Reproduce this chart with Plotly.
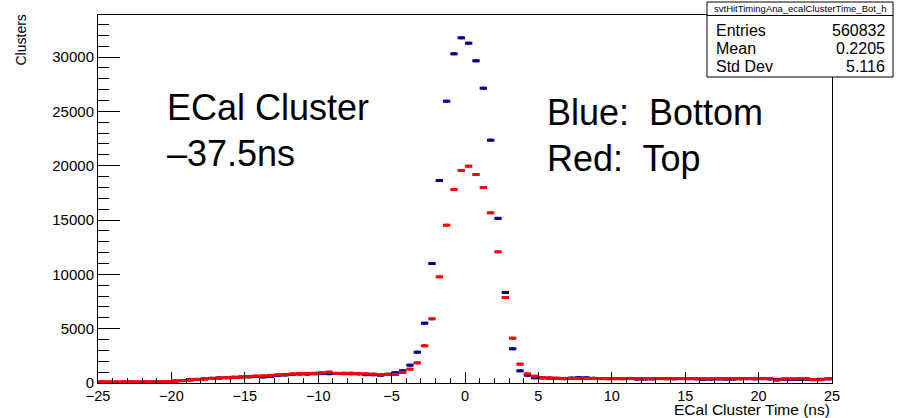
import numpy as np
import plotly.graph_objects as go

# Histogram binning (ROOT TH1: 100 bins from -25 to 25 ns)
bin_low = -25.0
bin_width = 0.5

# Blue: Bottom
bottom_counts = [
    90, 80, 70, 80, 90, 75, 80, 90, 100, 120,
    180, 230, 290, 330, 380, 430, 460, 490, 520, 540,
    560, 590, 560, 600, 700, 740, 800, 830, 820, 850,
    870, 860, 880, 860, 850, 840, 770, 760, 720, 800,
    939, 1123, 1638, 2834, 5503, 10996, 18634, 25932, 30294, 31766,
    31269, 29650, 27128, 22343, 15150, 8328, 3147, 1123, 718, 478,
    470, 440, 420, 400, 450, 490, 480, 430, 410, 400,
    410, 400, 420, 360, 370, 380, 410, 400, 390, 410,
    400, 390, 340, 350, 380, 360, 360, 390, 400, 380,
    400, 380, 330, 340, 330, 320, 350, 300, 340, 380,
]
# Red: Top
top_counts = [
    110, 100, 95, 100, 105, 95, 100, 105, 115, 130,
    160, 210, 270, 320, 370, 420, 460, 490, 520, 550,
    600, 640, 660, 700, 760, 790, 830, 860, 880, 890,
    950, 1000, 880, 900, 900, 880, 850, 820, 760, 790,
    782, 966, 1270, 1859, 3423, 5908, 9772, 14521, 17807, 19555,
    19951, 19187, 17991, 15662, 12074, 7868, 4122, 1730, 846, 626,
    500, 470, 440, 420, 420, 410, 420, 415, 410, 400,
    400, 405, 410, 400, 395, 400, 410, 400, 405, 410,
    410, 400, 395, 400, 405, 400, 395, 400, 410, 420,
    420, 400, 260, 380, 390, 400, 390, 320, 300, 410,
]

x_ticks = [-25, -20, -15, -10, -5, 0, 5, 10, 15, 20, 25]
y_ticks = [0, 5000, 10000, 15000, 20000, 25000, 30000]

stats_title = "svtHitTimingAna_ecalClusterTime_Bot_h"
stats_labels = ["Entries", "Mean", "Std Dev"]
stats_values = ["560832", "0.2205", "5.116"]

centers = bin_low + bin_width * (np.arange(len(bottom_counts)) + 0.5)

FONT = "Liberation Sans, Arial, Helvetica, sans-serif"
BLUE = "rgb(0,0,140)"
RED = "rgb(255,0,0)"

fig = go.Figure()
for counts, col in [(bottom_counts, BLUE), (top_counts, RED)]:
    fig.add_trace(go.Scatter(
        x=centers, y=counts, mode="markers",
        marker=dict(symbol="square", size=3, color=col),
        error_x=dict(type="constant", value=bin_width / 2, thickness=3,
                     width=0, color=col),
        showlegend=False, hoverinfo="x+y",
    ))

W, H = 908, 418
L, R, T, B = 98, 76, 15, 35
pw, ph = W - L - R, H - T - B


def px(xp):
    return (xp - L) / pw


def py(yp):
    return 1 - (yp - T) / ph


fig.update_layout(
    width=W, height=H,
    margin=dict(l=L, r=R, t=T, b=B),
    paper_bgcolor="white", plot_bgcolor="white",
    font=dict(family=FONT, color="black", size=14),
    xaxis=dict(
        range=[-25, 25], tickvals=x_ticks, ticks="inside", ticklen=11,
        tickwidth=1, tickcolor="black", showline=True, mirror=True,
        linecolor="black", linewidth=1, showgrid=False, zeroline=False,
        tickfont=dict(size=14.5),
        minor=dict(ticks="inside", ticklen=5.5, tick0=-25, dtick=1,
                   tickcolor="black", tickwidth=1, showgrid=False),
    ),
    yaxis=dict(
        range=[0, 33865], tickvals=y_ticks, tickformat="d", ticks="inside",
        ticklen=22, tickwidth=1, tickcolor="black", showline=True,
        mirror=True, linecolor="black", linewidth=1, showgrid=False,
        zeroline=False, tickfont=dict(size=15),
        minor=dict(ticks="inside", ticklen=11, tick0=0, dtick=1000,
                   tickcolor="black", tickwidth=1, showgrid=False),
    ),
)

ann = []
# axis titles
ann.append(dict(text="ECal Cluster Time (ns)", x=px(831), y=py(409.5),
                xanchor="right", yanchor="middle", font=dict(size=15.5),
                borderpad=0))
ann.append(dict(text="Clusters", x=px(20), y=py(13), textangle=-90,
                xanchor="center", yanchor="top", font=dict(size=14)))
# large labels
ann.append(dict(text="ECal Cluster", x=px(165), y=py(107),
                xanchor="left", yanchor="middle", font=dict(size=36)))
ann.append(dict(text="–37.5ns", x=px(165), y=py(153),
                xanchor="left", yanchor="middle", font=dict(size=36)))
ann.append(dict(text="Blue:\u00a0 Bottom", x=px(545), y=py(113),
                xanchor="left", yanchor="middle", font=dict(size=36)))
ann.append(dict(text="Red:\u00a0 Top", x=px(545), y=py(158),
                xanchor="left", yanchor="middle", font=dict(size=36)))
# stats box text
ann.append(dict(text=stats_title, x=px(800), y=py(8.5), xanchor="center",
                yanchor="middle", font=dict(size=9.5)))
for i, (lab, val) in enumerate(zip(stats_labels, stats_values)):
    yy = py(31 + 18 * i)
    ann.append(dict(text=lab, x=px(714), y=yy, xanchor="left",
                    yanchor="middle", font=dict(size=16)))
    ann.append(dict(text=val, x=px(887), y=yy, xanchor="right",
                    yanchor="middle", font=dict(size=16)))

for a in ann:
    a.update(xref="paper", yref="paper", showarrow=False)
fig.update_layout(annotations=ann)

fig.update_layout(shapes=[
    dict(type="rect", xref="paper", yref="paper", x0=px(707), x1=px(893),
         y0=py(77), y1=py(2), line=dict(color="black", width=1),
         fillcolor="white", layer="above"),
    dict(type="line", xref="paper", yref="paper", x0=px(707), x1=px(893),
         y0=py(15.5), y1=py(15.5), line=dict(color="black", width=1),
         layer="above"),
])

fig.write_html("out.html")
